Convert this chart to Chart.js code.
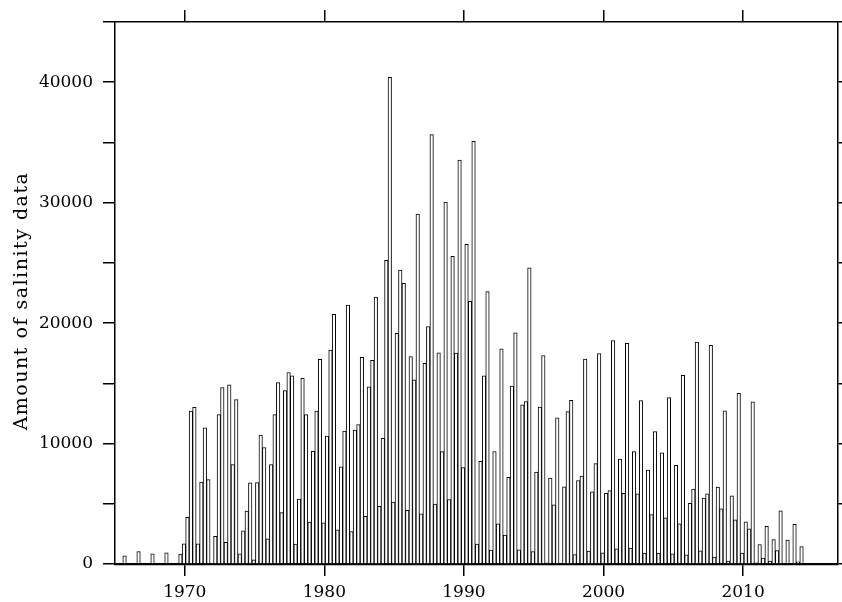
<!DOCTYPE html>
<html>
<head>
<meta charset="utf-8">
<script src="https://cdn.jsdelivr.net/npm/chart.js@4/dist/chart.umd.min.js"></script>
<style>
  body { margin: 0; background: #fff; }
  #myC { display: block; }
</style>
</head>
<body>
<canvas id="myC" width="842" height="602"></canvas>
<script>
// quarterly counts, one row of 4 per year (Q1..Q4)
const firstYear = 1965;
const counts1960s = [
  0, 0, 680, 0,
  0, 0, 1040, 0,
  0, 0, 850, 0,
  0, 0, 930, 0,
  0, 0, 820, 1680
];
const counts1970s = [
  3870, 12700, 13000, 1680,
  6800, 11300, 7000, 0,
  2300, 12400, 14650, 1790,
  14870, 8250, 13650, 850,
  2760, 4400, 6730, 350,
  6760, 10700, 9670, 2100,
  8250, 12400, 15060, 4260,
  14400, 15900, 15620, 1650,
  5400, 15420, 12400, 3480,
  9350, 12700, 17000, 3410
];
const counts1980s = [
  10630, 17760, 20730, 2840,
  8060, 11030, 21500, 2700,
  11110, 11580, 17150, 3950,
  14710, 16900, 22160, 4780,
  10440, 25220, 40400, 5140,
  19160, 24400, 23300, 4450,
  17220, 15290, 29050, 4170,
  16670, 19720, 35650, 4980,
  17540, 9330, 30040, 5340,
  25550, 17510, 33540, 8000
];
const counts1990s = [
  26550, 21810, 35090, 1650,
  8530, 15620, 22610, 1150,
  9340, 3340, 17870, 2400,
  7200, 14770, 19200, 1180,
  13220, 13490, 24580, 1040,
  7640, 13020, 17310, 100,
  7140, 4920, 12130, 0,
  6410, 12650, 13590, 790,
  6930, 7290, 17020, 1070,
  6000, 8330, 17480, 930
];
const counts2000s = [
  5860, 6090, 18560, 1260,
  8720, 5860, 18320, 1320,
  9330, 5830, 13570, 900,
  7800, 4110, 11000, 900,
  9220, 3840, 13820, 850,
  8190, 3340, 15660, 760,
  5030, 6230, 18430, 1100,
  5480, 5830, 18150, 570,
  6390, 4590, 12720, 240,
  5670, 3670, 14160, 900
];
const counts2010s = [
  3510, 2930, 13460, 100,
  1620, 500, 3120, 250,
  2020, 1110, 4410, 0,
  1980, 0, 3290, 170,
  1450, 0, 0, 0
];
const yearTicks = [1970, 1980, 1990, 2000, 2010];
const countTicks = [0, 5000, 10000, 15000, 20000, 25000, 30000, 35000, 40000, 45000];
const yTitle = 'Amount of salinity data';

const allCounts = [].concat(counts1960s, counts1970s, counts1980s, counts1990s, counts2000s, counts2010s);
const points = allCounts.map((v, i) => ({
  x: firstYear + Math.floor(i / 4) + ((i % 4) + 0.75) / 4,
  y: v
}));

const serif = { family: '"DejaVu Serif", serif', size: 17 };

const fixSize = (w, h) => (scale) => {
  if (w !== null) scale.width = w;
  if (h !== null) scale.height = h;
};

const titlePlugin = {
  id: 'ytitle',
  afterDraw(chart) {
    const c = chart.ctx;
    c.save();
    c.translate(27, 301);
    c.rotate(-Math.PI / 2);
    c.font = '19px "DejaVu Serif", serif';
    c.letterSpacing = '1.5px';
    c.fillStyle = '#000';
    c.textAlign = 'center';
    c.textBaseline = 'alphabetic';
    c.fillText(yTitle, 0, 0);
    c.restore();
  }
};

const gridOpts = { drawOnChartArea: false, drawTicks: true, tickLength: 12, color: '#000', lineWidth: 1.5, offset: false };

const ctx = document.querySelector('#myC').getContext('2d');
let chart = new Chart(ctx, {
  type: 'bar',
  data: {
    datasets: [{
      data: points,
      backgroundColor: '#fff',
      borderColor: '#000',
      borderWidth: 1,
      barThickness: 3.5
    }]
  },
  options: {
    responsive: false,
    animation: false,
    layout: { padding: 0 },
    scales: {
      x: {
        type: 'linear',
        position: 'bottom',
        offset: false,
        min: 1965,
        max: 2016.8,
        afterBuildTicks: (s) => { s.ticks = yearTicks.map(v => ({ value: v })); },
        afterFit: fixSize(null, 38),
        grid: gridOpts,
        border: { color: '#000', width: 2.2 },
        ticks: { color: '#000', font: serif, padding: 6, maxRotation: 0, autoSkip: false, callback: (v) => String(v) }
      },
      x2: {
        type: 'linear',
        position: 'top',
        offset: false,
        min: 1965,
        max: 2016.8,
        afterBuildTicks: (s) => { s.ticks = yearTicks.map(v => ({ value: v })); },
        afterFit: fixSize(null, 22),
        grid: gridOpts,
        border: { color: '#000', width: 1.5 },
        ticks: { display: false }
      },
      y: {
        position: 'left',
        min: 0,
        max: 45000,
        afterBuildTicks: (s) => { s.ticks = countTicks.map(v => ({ value: v })); },
        afterFit: fixSize(115, null),
        grid: gridOpts,
        border: { color: '#000', width: 1.5 },
        ticks: {
          color: '#000', font: serif, padding: 10, autoSkip: false,
          callback: (v) => (v % 10000 === 0 && v < 45000 ? String(v) : '')
        }
      },
      y2: {
        position: 'right',
        min: 0,
        max: 45000,
        afterBuildTicks: (s) => { s.ticks = countTicks.map(v => ({ value: v })); },
        afterFit: fixSize(4, null),
        grid: gridOpts,
        border: { color: '#000', width: 1.5 },
        ticks: { display: false }
      }
    },
    plugins: {
      legend: { display: false },
      tooltip: { enabled: false }
    }
  },
  plugins: [titlePlugin]
});
</script>
</body>
</html>
